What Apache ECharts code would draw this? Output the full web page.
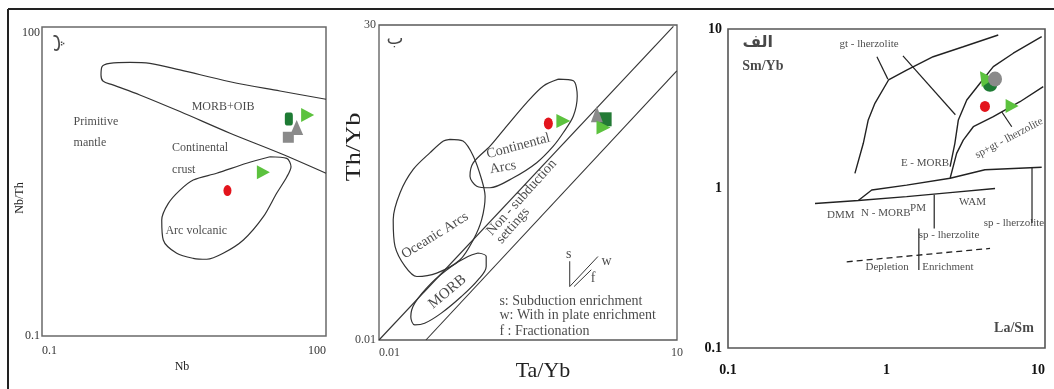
<!DOCTYPE html>
<html><head><meta charset="utf-8">
<script src="https://cdn.jsdelivr.net/npm/echarts@6/dist/echarts.min.js"></script>
<style>html,body{margin:0;padding:0;background:#fff}#c{width:1054px;height:389px}</style>
</head><body><div id="c"></div>
<script>
// ---------- Panel 1 (پ): Nb vs Nb/Th ----------
const p1XTicks = ['0.1', '100'];
const p1YTicks = ['0.1', '100'];
const p1MorbOib = [[100,19.9],[32.7,23.9],[9.7,29.4],[2.87,38.3],[1.38,44.4],[0.85,45.4],[0.52,44.4],[0.43,41.2],[0.42,34.2],[0.44,29.9],[0.56,27.4],[1.08,21.9],[2.87,15.1],[9.7,9.3],[32.7,5.94],[100,3.8]];
const p1ArcVolcanic = [[25.6,5.5],[38.5,5.3],[42.7,4.4],[38.5,3.5],[30.1,2.43],[21.8,1.44],[13.4,0.855],[8.2,0.635],[5.5,0.556],[3.96,0.568],[2.65,0.635],[1.91,0.855],[1.84,1.34],[2.16,1.94],[2.87,2.61],[3.96,3.27],[7.0,3.8],[14.5,4.75],[25.6,5.5]];
const p1Red = [[9.1,2.58]];
const p1Green = [[21.8,3.88],[64,14.0]];
const p1DarkGreen = [[40.5,12.8]];
const p1GrayTri = [[49,10.6]];
const p1GraySq = [[40,8.5]];

// ---------- Panel 2 (ب): Ta/Yb vs Th/Yb ----------
const p2XTicks = ['0.01', '10'];
const p2YTicks = ['0.01', '30'];
const p2UpperArray = [[0.01,0.01],[9.2,29]];
const p2LowerArray = [[0.0297,0.01],[9.95,9.35]];
const p2ContArcs = [[0.64,7.57],[0.905,7.26],[0.99,4.94],[0.905,2.97],[0.718,1.95],[0.569,1.38],[0.387,0.906],[0.225,0.618],[0.131,0.479],[0.0964,0.499],[0.0824,0.643],[0.0891,0.906],[0.131,1.38],[0.193,2.30],[0.307,4.18],[0.452,6.38],[0.64,7.57]];
const p2OceanicArcs = [[0.0519,1.64],[0.0701,1.57],[0.0891,1.07],[0.108,0.591],[0.117,0.386],[0.108,0.213],[0.0891,0.128],[0.0655,0.0769],[0.0381,0.0548],[0.024,0.0502],[0.0183,0.0649],[0.0145,0.108],[0.0139,0.213],[0.0163,0.422],[0.0221,0.763],[0.0327,1.17],[0.0445,1.57],[0.0519,1.64]];
const p2Morb = [[0.0993,0.0912],[0.120,0.0835],[0.120,0.0649],[0.0993,0.0461],[0.0675,0.0302],[0.0424,0.0198],[0.0288,0.0153],[0.0229,0.0147],[0.0209,0.0181],[0.0229,0.0255],[0.0336,0.0425],[0.0535,0.0649],[0.0787,0.0835],[0.0993,0.0912]];
const p2VecS = [[0.832,0.074],[0.832,0.0389]];
const p2VecW = [[0.832,0.0389],[1.60,0.0835]];
const p2VecF = [[0.92,0.0389],[1.37,0.0596]];
const p2Red = [[0.507,2.45]];
const p2Green = [[0.718,2.62],[1.82,2.21]];
const p2DarkGreen = [[1.89,2.73]];
const p2Gray = [[1.56,3.10]];

// ---------- Panel 3 (الف): La/Sm vs Sm/Yb ----------
const p3XTicks = ['0.1', '1', '10'];
const p3YTicks = ['0.1', '1', '10'];
const p3GtCurve = [[0.632,1.245],[0.714,1.92],[0.767,2.69],[0.845,3.42],[1.03,4.79],[1.34,5.53],[1.97,6.70],[3.05,7.74],[5.07,9.17]];
const p3GtTick1 = [[0.87,6.7],[1.02,4.85]];
const p3GtTick2 = [[1.27,6.78],[2.72,2.9]];
const p3EmorbCurve = [[2.52,1.37],[2.70,1.92],[2.84,2.69],[3.21,3.59],[3.89,4.57],[4.72,5.81],[6.31,7.05],[9.53,8.96]];
const p3SpGtCurve = [[2.52,1.16],[2.77,1.66],[3.05,2.01],[3.53,2.44],[4.72,2.82],[6.95,3.50],[9.75,4.35]];
const p3SpGtTick = [[5.33,3.03],[6.17,2.44]];
const p3UpperFlat = [[0.664,0.841],[0.807,0.978],[1.34,1.05],[2.52,1.16],[4.18,1.31],[9.53,1.36]];
const p3UpperTick = [[8.28,1.35],[8.28,0.608]];
const p3LowerFlat = [[0.354,0.805],[0.664,0.841],[1.34,0.889],[2.52,0.942],[4.84,1.0]];
const p3LowerTick = [[2.0,0.915],[2.0,0.562]];
const p3SpTick = [[1.60,0.562],[1.60,0.308]];
const p3Dashed = [[0.561,0.347],[4.50,0.421]];
const p3Red = [[4.18,3.27]];
const p3GreenA = [[4.12,5.0]];
const p3GreenB = [[6.2,3.29]];
const p3DarkGreen = [[4.5,4.4]];
const p3Gray = [[4.84,4.86]];

// ---------- annotation texts (text, anchor in data units) ----------
const p1Notes = [
  {t:'MORB+OIB', x:8.17, y:16.6},
  {t:'Primitive', x:0.213, y:12.05, left:true},
  {t:'mantle', x:0.213, y:7.43, left:true},
  {t:'Continental', x:2.34, y:6.68, left:true},
  {t:'crust', x:2.34, y:4.09, left:true},
  {t:'Arc volcanic', x:1.99, y:1.05, left:true},
  {t:'پ', x:0.137, y:70, rot:90, fs:20, ff:'"DejaVu Sans",sans-serif'}
];
const p2Notes = [
  {t:'ب', x:0.0145, y:21, fs:18, ff:'"DejaVu Sans",sans-serif'},
  {t:'Continental', x:0.253, y:1.38, rot:15},
  {t:'Arcs', x:0.177, y:0.804, rot:10},
  {t:'Oceanic Arcs', x:0.0366, y:0.142, rot:32},
  {t:'Non - subduction', x:0.273, y:0.374, rot:48},
  {t:'settings', x:0.223, y:0.183, rot:49},
  {t:'MORB', x:0.0488, y:0.034, rot:40, fs:15},
  {t:'s: Subduction enrichment', x:0.161, y:0.0266, left:true},
  {t:'w: With in plate enrichment', x:0.161, y:0.0185, left:true},
  {t:'f : Fractionation', x:0.161, y:0.0126, left:true},
  {t:'s', x:0.813, y:0.0873},
  {t:'w', x:1.95, y:0.0736},
  {t:'f', x:1.43, y:0.0482}
];
const p3Notes = [
  {t:'الف', x:0.154, y:8.13, fs:16, fw:'bold', ff:'"DejaVu Sans",sans-serif'},
  {t:'Sm/Yb', x:0.166, y:5.81, fs:14, fw:'bold'},
  {t:'La/Sm', x:6.37, y:0.133, fs:14, fw:'bold'},
  {t:'gt - lherzolite', x:0.776, y:8.05},
  {t:'E - MORB', x:1.75, y:1.445},
  {t:'sp+gt - lherzolite', x:5.93, y:2.07, rot:28},
  {t:'DMM', x:0.515, y:0.682},
  {t:'N - MORB', x:0.99, y:0.70},
  {t:'PM', x:1.58, y:0.751},
  {t:'WAM', x:3.49, y:0.826},
  {t:'sp - lherzolite', x:6.37, y:0.605},
  {t:'sp - lherzolite', x:2.48, y:0.510},
  {t:'Depletion', x:1.01, y:0.322},
  {t:'Enrichment', x:2.44, y:0.322}
];

const SERIF = '"Liberation Serif","Times New Roman",serif';
const fmtNum = v => String(+(+v).toPrecision(6));

function lineS(idx, data, o) {
  o = o || {};
  return {type:'line', xAxisIndex:idx, yAxisIndex:idx, data:data, symbol:'none', silent:true,
    animation:false, smooth:o.smooth||0, z:3,
    lineStyle:{color:o.color||'#333', width:o.width||1.2, type:o.type||'solid'}};
}
function dotS(idx, data, o) {
  return {type:'scatter', xAxisIndex:idx, yAxisIndex:idx, data:data, silent:true, animation:false,
    symbol:o.symbol, symbolSize:o.size, symbolRotate:o.rot||0, z:o.z||5,
    itemStyle:{color:o.color, opacity:1}};
}
function noteS(idx, notes, base) {
  return {type:'scatter', xAxisIndex:idx, yAxisIndex:idx, silent:true, animation:false,
    symbolSize:1, itemStyle:{color:'rgba(0,0,0,0)'}, z:10,
    data: notes.map(n => ({value:[n.x,n.y], label:{show:true, formatter:n.t,
      position: n.left ? 'right' : 'inside', distance:0, rotate:n.rot||0,
      fontSize:n.fs||base.fs, fontWeight:n.fw||'normal', fontFamily:n.ff||SERIF,
      color:'#1a1a1a'}}))};
}
function xAx(idx, min, max, ticks, lab) {
  return {gridIndex:idx, type:'log', logBase:10, min:min, max:max,
    axisLine:{show:false}, axisTick:{show:false}, splitLine:{show:false},
    axisLabel:Object.assign({show:true, fontFamily:SERIF, color:'#333', hideOverlap:false,
      showMinLabel:true, showMaxLabel:true,
      formatter:v => ticks.includes(fmtNum(v)) ? fmtNum(v) : ''}, lab)};
}
function yAx(idx, min, max, ticks, lab) {
  return xAx(idx, min, max, ticks, lab);
}

const option = {
  animation:false,
  grid:[
    {left:42, top:27, width:284, height:309, show:true, borderColor:'#6a6a6a', borderWidth:1.5},
    {left:379, top:25, width:298, height:315, show:true, borderColor:'#5a5a5a', borderWidth:1.3},
    {left:728, top:29, width:317, height:319, show:true, borderColor:'#555', borderWidth:1.6}
  ],
  xAxis:[
    xAx(0, 0.1, 100, p1XTicks, {fontSize:12, margin:9, alignMinLabel:'left', alignMaxLabel:'right'}),
    xAx(1, 0.01, 10, p2XTicks, {fontSize:12, margin:7, alignMinLabel:'left', color:'#444'}),
    xAx(2, 0.1, 10, p3XTicks, {fontSize:14, fontWeight:'bold', color:'#111', margin:15, alignMaxLabel:'right'})
  ],
  yAxis:[
    yAx(0, 0.1, 100, p1YTicks, {fontSize:12, margin:2, verticalAlignMaxLabel:'top'}),
    yAx(1, 0.01, 30, p2YTicks, {fontSize:12, margin:3, color:'#444'}),
    yAx(2, 0.1, 10, p3YTicks, {fontSize:14, fontWeight:'bold', color:'#111', margin:6})
  ],
  graphic:[
    {type:'line', shape:{x1:8, y1:9, x2:1054, y2:9}, style:{stroke:'#222', lineWidth:2}},
    {type:'line', shape:{x1:8, y1:9, x2:8, y2:389}, style:{stroke:'#222', lineWidth:2}},
    {type:'text', x:20, y:198, rotation:Math.PI/2, style:{text:'Nb/Th', fontSize:12, fontFamily:SERIF, fill:'#222', align:'center', verticalAlign:'middle'}},
    {type:'text', x:182, y:367, style:{text:'Nb', fontSize:12, fontFamily:SERIF, fill:'#222', align:'center', verticalAlign:'middle'}},
    {type:'text', x:354, y:147, rotation:Math.PI/2, scaleX:1.25, style:{text:'Th/Yb', fontSize:21, fontFamily:SERIF, fill:'#222', align:'center', verticalAlign:'middle'}},
    {type:'text', x:543, y:371, style:{text:'Ta/Yb', fontSize:22, fontFamily:SERIF, fill:'#222', align:'center', verticalAlign:'middle'}}
  ],
  series:[
    // panel 1
    lineS(0, p1MorbOib, {smooth:0.35}),
    lineS(0, p1ArcVolcanic, {smooth:0.3}),
    dotS(0, p1GraySq, {symbol:'rect', size:[11,11], color:'#8a8a8a'}),
    dotS(0, p1GrayTri, {symbol:'triangle', size:[13,15], color:'#8a8a8a'}),
    dotS(0, p1DarkGreen, {symbol:'roundRect', size:[8,13], color:'#1e7b34', z:6}),
    dotS(0, p1Green, {symbol:'triangle', size:[14,13], rot:-90, color:'#5cc23e'}),
    dotS(0, p1Red, {symbol:'circle', size:[8,11], color:'#e3141c'}),
    noteS(0, p1Notes, {fs:12}),
    // panel 2
    lineS(1, p2UpperArray, {width:1.1}),
    lineS(1, p2LowerArray, {width:1.1}),
    lineS(1, p2ContArcs, {smooth:0.3}),
    lineS(1, p2OceanicArcs, {smooth:0.3}),
    lineS(1, p2Morb, {smooth:0.35}),
    lineS(1, p2VecS, {width:1}),
    lineS(1, p2VecW, {width:1}),
    lineS(1, p2VecF, {width:1}),
    dotS(1, p2DarkGreen, {symbol:'rect', size:[13,14], color:'#237a35'}),
    dotS(1, p2Gray, {symbol:'triangle', size:[12,16], color:'#8a8a8a', z:6}),
    dotS(1, p2Green, {symbol:'triangle', size:[14,14], rot:-90, color:'#5cc23e', z:7}),
    dotS(1, p2Red, {symbol:'circle', size:[9,12], color:'#e3141c'}),
    noteS(1, p2Notes, {fs:14}),
    // panel 3
    lineS(2, p3GtCurve, {color:'#222', width:1.4}),
    lineS(2, p3GtTick1, {color:'#222', width:1.2}),
    lineS(2, p3GtTick2, {color:'#222', width:1.2}),
    lineS(2, p3EmorbCurve, {color:'#222', width:1.4}),
    lineS(2, p3SpGtCurve, {color:'#222', width:1.4}),
    lineS(2, p3SpGtTick, {color:'#222', width:1.2}),
    lineS(2, p3UpperFlat, {color:'#222', width:1.4}),
    lineS(2, p3UpperTick, {color:'#222', width:1.2}),
    lineS(2, p3LowerFlat, {color:'#222', width:1.4}),
    lineS(2, p3LowerTick, {color:'#222', width:1.2}),
    lineS(2, p3SpTick, {color:'#222', width:1.2}),
    lineS(2, p3Dashed, {color:'#222', width:1.3, type:[6,4]}),
    dotS(2, p3DarkGreen, {symbol:'circle', size:[14,12], color:'#1e7b34'}),
    dotS(2, p3GreenA, {symbol:'triangle', size:[15,14], rot:35, color:'#5cc23e', z:6}),
    dotS(2, p3Gray, {symbol:'circle', size:[14,15], color:'#8a8a8a', z:7}),
    dotS(2, p3GreenB, {symbol:'triangle', size:[14,13], rot:-90, color:'#5cc23e'}),
    dotS(2, p3Red, {symbol:'circle', size:[10,11], color:'#e3141c'}),
    noteS(2, p3Notes, {fs:11})
  ]
};
const chart = echarts.init(document.getElementById('c'), null, {renderer:'canvas'});
chart.setOption(option);
</script>
</body></html>
